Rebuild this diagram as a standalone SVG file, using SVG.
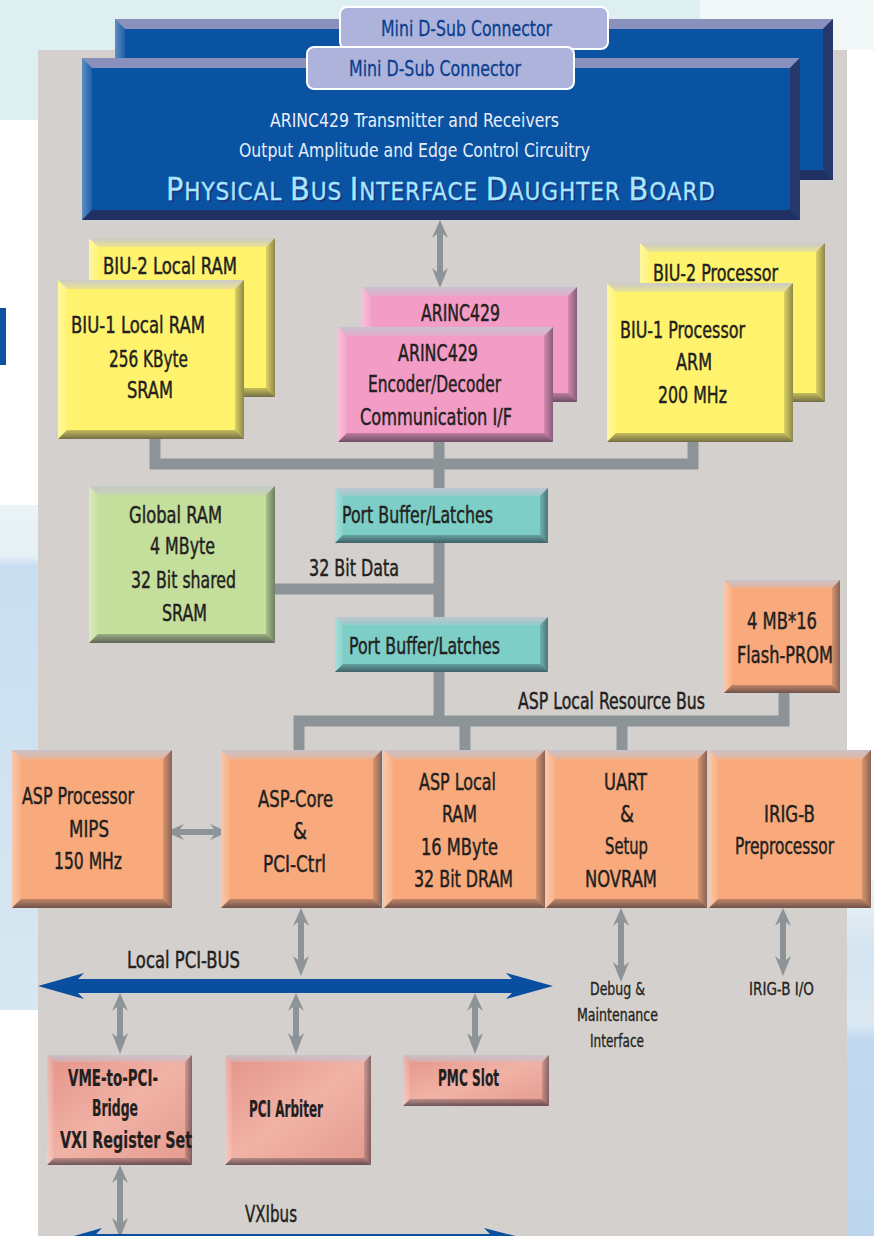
<svg xmlns="http://www.w3.org/2000/svg" width="874" height="1236" viewBox="0 0 874 1236">
<style>
.lbl{font-family:"Liberation Sans Narrow","DejaVu Sans Condensed","Liberation Sans",sans-serif;font-size:23px;fill:#231f20;stroke:#231f20;stroke-width:0.45px}
.sm{font-size:17px;stroke-width:0.3px}
.hv{font-weight:bold;stroke-width:0.2px}
.wt{font-family:"Liberation Sans Narrow","DejaVu Sans Condensed","Liberation Sans",sans-serif;font-size:20px;fill:#e8eef8}
.con{font-family:"Liberation Sans Narrow","DejaVu Sans Condensed","Liberation Sans",sans-serif;font-size:21px;fill:#0b3f8f;stroke:#0b3f8f;stroke-width:0.3px}
.ttl{font-family:"Liberation Sans Narrow","DejaVu Sans Condensed","Liberation Sans",sans-serif;font-size:24px}
.big{font-size:32px}
.bt{fill:url(#gT)}
.bl{fill:url(#gL)}
.br{fill:url(#gR)}
.bb{fill:url(#gB)}
.btb{fill:#8a90bc}
.brb{fill:#26386c}
.bbb{fill:#1f3163}
.bus{fill:none;stroke:#8d9497;stroke-width:11}
.arr{fill:#8d9497}
.pci{fill:#0a4f9f}
.blue{fill:#0a52a2}
.yel{fill:#fff36d}
.pink{fill:#f39dc6}
.teal{fill:#7ccec6}
.grn{fill:#c4de9c}
.org{fill:#f8aa7c}
.rose{fill:url(#gRose)}
.dsub{fill:#aeb3dc;stroke:#ffffff;stroke-width:2}
</style>
<defs>
<linearGradient id="gT" x1="0" y1="0" x2="0" y2="1"><stop offset="0" stop-color="#c4c5d2" stop-opacity=".9"/><stop offset="1" stop-color="#c4c5d2" stop-opacity=".35"/></linearGradient>
<linearGradient id="gL" x1="0" y1="0" x2="1" y2="0"><stop offset="0" stop-color="#ffffff" stop-opacity=".35"/><stop offset="1" stop-color="#ffffff" stop-opacity=".08"/></linearGradient>
<linearGradient id="gR" x1="0" y1="0" x2="1" y2="0"><stop offset="0" stop-color="#1c1c2c" stop-opacity=".15"/><stop offset="1" stop-color="#1c1c2c" stop-opacity=".5"/></linearGradient>
<linearGradient id="gB" x1="0" y1="0" x2="0" y2="1"><stop offset="0" stop-color="#1c1c2c" stop-opacity=".25"/><stop offset="1" stop-color="#1c1c2c" stop-opacity=".62"/></linearGradient>
<linearGradient id="gRose" x1="0" y1="0" x2="1" y2="1"><stop offset="0" stop-color="#e49488"/><stop offset=".5" stop-color="#f1b2a6"/><stop offset="1" stop-color="#e49a8e"/></linearGradient>
<linearGradient id="gLeft" x1="0" y1="0" x2="0" y2="1"><stop offset="0" stop-color="#eaf3f6"/><stop offset=".1" stop-color="#e6f1f6"/><stop offset=".12" stop-color="#c9def0"/><stop offset="1" stop-color="#d8e8f2"/></linearGradient>
<linearGradient id="gRight" x1="0" y1="0" x2="0" y2="1"><stop offset="0" stop-color="#edf3f8"/><stop offset=".2" stop-color="#d4e4f0"/><stop offset=".4" stop-color="#dce9f3"/><stop offset=".45" stop-color="#c2d9ef"/><stop offset="1" stop-color="#bcd6ee"/></linearGradient>
</defs>

<g id="background">
<rect x="0" y="0" width="874" height="1236" fill="#ffffff"/>
<rect x="0" y="0" width="874" height="50" fill="#ddeff0"/>
<rect x="700" y="0" width="174" height="50" fill="#f2f8f8"/>
<rect x="0" y="50" width="38" height="70" fill="#ddeff0"/>
<rect x="0" y="505" width="38" height="505" fill="url(#gLeft)"/>
<rect x="847" y="880" width="27" height="356" fill="url(#gRight)"/>
<rect x="0" y="308" width="6" height="57" fill="#0a52a2"/>
<rect x="38" y="50" width="809" height="1186" fill="#d4d0cd"/>
</g>

<g id="connectors">
<path class="bus" d="M155,439 V464 H693 V442"/>
<path class="bus" d="M439,442 V488 M439,543 V617 M439,672 V721"/>
<path class="bus" d="M275,589 H439"/>
<path class="bus" d="M299,750 V721 H784 V692 M465,721 V750 M622,721 V750"/>
<path class="arr" d="M440,220 L448,238 L443,234 V272 L448,268 L440,288 L432,268 L437,272 V234 L432,238 Z"/>
<path class="arr" d="M166,832 L184,824 L180,829 H214 L210,824 L228,832 L210,840 L214,835 H180 L184,840 Z"/>
<path class="arr" d="M301,908 L309,926 L304,922 V960 L309,956 L301,976 L293,956 L298,960 V922 L293,926 Z"/>
<path class="arr" d="M621,908 L629,926 L624,922 V966 L629,962 L621,982 L613,962 L618,966 V922 L613,926 Z"/>
<path class="arr" d="M783,908 L791,926 L786,922 V960 L791,956 L783,976 L775,956 L780,960 V922 L775,926 Z"/>
<path class="arr" d="M120,993 L128,1011 L123,1007 V1037 L128,1033 L120,1054 L112,1033 L117,1037 V1007 L112,1011 Z"/>
<path class="arr" d="M296,993 L304,1011 L299,1007 V1037 L304,1033 L296,1054 L288,1033 L293,1037 V1007 L288,1011 Z"/>
<path class="arr" d="M475,993 L483,1011 L478,1007 V1037 L483,1033 L475,1054 L467,1033 L472,1037 V1007 L467,1011 Z"/>
<path class="arr" d="M120,1165 L128,1183 L123,1179 V1222 L128,1218 L120,1238 L112,1218 L117,1222 V1179 L112,1183 Z"/>
<path class="pci" d="M38,986 L84,973 L78,979 H512 L506,973 L553,986 L506,999 L512,993 H78 L84,999 Z"/>
<path class="pci" d="M56,1241 L102,1228 L96,1234 H490 L484,1228 L535,1241 Z"/>
<text class="lbl" x="309" y="576" textLength="90" lengthAdjust="spacingAndGlyphs">32 Bit Data</text>
<text class="lbl" x="518" y="709" textLength="187" lengthAdjust="spacingAndGlyphs">ASP Local Resource Bus</text>
<text class="lbl" x="127" y="968" textLength="113" lengthAdjust="spacingAndGlyphs">Local PCI-BUS</text>
<text class="lbl" x="245" y="1222" textLength="52" lengthAdjust="spacingAndGlyphs">VXIbus</text>
<text class="lbl sm" x="590" y="995" textLength="55" lengthAdjust="spacingAndGlyphs">Debug &amp;</text>
<text class="lbl sm" x="577" y="1021" textLength="81" lengthAdjust="spacingAndGlyphs">Maintenance</text>
<text class="lbl sm" x="590" y="1047" textLength="54" lengthAdjust="spacingAndGlyphs">Interface</text>
<text class="lbl sm" x="749" y="995" textLength="65" lengthAdjust="spacingAndGlyphs">IRIG-B I/O</text>
</g>

<g id="daughter-board-2">
<rect class="blue" x="115" y="19" width="718" height="161"/>
<path class="btb" d="M115,19 H833 L823,29 H125 Z"/>
<path class="bl" d="M115,19 L125,29 V170 L115,180 Z"/>
<path class="brb" d="M833,19 V180 L823,170 V29 Z"/>
<path class="bbb" d="M115,180 H833 L823,170 H125 Z"/>
</g>
<g id="mini-dsub-2">
<rect class="dsub" x="340" y="7" width="268" height="42" rx="7"/>
<text class="con" x="381" y="36" textLength="171" lengthAdjust="spacingAndGlyphs">Mini D-Sub Connector</text>
</g>
<g id="daughter-board-1">
<rect class="blue" x="82" y="58" width="718" height="162"/>
<path class="btb" d="M82,58 H800 L790,68 H92 Z"/>
<path class="bl" d="M82,58 L92,68 V210 L82,220 Z"/>
<path class="brb" d="M800,58 V220 L790,210 V68 Z"/>
<path class="bbb" d="M82,220 H800 L790,210 H92 Z"/>
<text class="wt" x="270" y="127" textLength="289" lengthAdjust="spacingAndGlyphs">ARINC429 Transmitter and Receivers</text>
<text class="wt" x="239" y="157" textLength="351" lengthAdjust="spacingAndGlyphs">Output Amplitude and Edge Control Circuitry</text>
<text class="ttl" x="168" y="202" fill="#1b3580" textLength="549" lengthAdjust="spacing"><tspan class="big">P</tspan>HYSICAL <tspan class="big">B</tspan>US <tspan class="big">I</tspan>NTERFACE <tspan class="big">D</tspan>AUGHTER <tspan class="big">B</tspan>OARD</text>
<text class="ttl" x="166" y="200" fill="#a9e6ff" stroke="#a9e6ff" stroke-width="0.3" textLength="549" lengthAdjust="spacing"><tspan class="big">P</tspan>HYSICAL <tspan class="big">B</tspan>US <tspan class="big">I</tspan>NTERFACE <tspan class="big">D</tspan>AUGHTER <tspan class="big">B</tspan>OARD</text>
</g>
<g id="mini-dsub-1">
<rect class="dsub" x="307" y="47" width="267" height="42" rx="7"/>
<text class="con" x="349" y="76" textLength="172" lengthAdjust="spacingAndGlyphs">Mini D-Sub Connector</text>
</g>

<g id="biu2-ram">
<rect class="yel" x="89" y="238" width="186" height="159"/>
<path class="bt" d="M89,238 H275 L266,247 H98 Z"/>
<path class="bl" d="M89,238 L98,247 V388 L89,397 Z"/>
<path class="br" d="M275,238 V397 L266,388 V247 Z"/>
<path class="bb" d="M89,397 H275 L266,388 H98 Z"/>
<text class="lbl" x="103" y="274" textLength="134" lengthAdjust="spacingAndGlyphs">BIU-2 Local RAM</text>
</g>
<g id="biu1-ram">
<rect class="yel" x="58" y="280" width="186" height="159"/>
<path class="bt" d="M58,280 H244 L235,289 H67 Z"/>
<path class="bl" d="M58,280 L67,289 V430 L58,439 Z"/>
<path class="br" d="M244,280 V439 L235,430 V289 Z"/>
<path class="bb" d="M58,439 H244 L235,430 H67 Z"/>
<text class="lbl" x="71" y="333" textLength="134" lengthAdjust="spacingAndGlyphs">BIU-1 Local RAM</text>
<text class="lbl" x="109" y="367" textLength="79" lengthAdjust="spacingAndGlyphs">256 KByte</text>
<text class="lbl" x="127" y="398" textLength="46" lengthAdjust="spacingAndGlyphs">SRAM</text>
</g>
<g id="arinc-2">
<rect class="pink" x="362" y="287" width="215" height="115"/>
<path class="bt" d="M362,287 H577 L568,296 H371 Z"/>
<path class="bl" d="M362,287 L371,296 V393 L362,402 Z"/>
<path class="br" d="M577,287 V402 L568,393 V296 Z"/>
<path class="bb" d="M362,402 H577 L568,393 H371 Z"/>
<text class="lbl" x="421" y="321" textLength="79" lengthAdjust="spacingAndGlyphs">ARINC429</text>
</g>
<g id="arinc-1">
<rect class="pink" x="338" y="327" width="215" height="115"/>
<path class="bt" d="M338,327 H553 L544,336 H347 Z"/>
<path class="bl" d="M338,327 L347,336 V433 L338,442 Z"/>
<path class="br" d="M553,327 V442 L544,433 V336 Z"/>
<path class="bb" d="M338,442 H553 L544,433 H347 Z"/>
<text class="lbl" x="398" y="361" textLength="80" lengthAdjust="spacingAndGlyphs">ARINC429</text>
<text class="lbl" x="368" y="392" textLength="133" lengthAdjust="spacingAndGlyphs">Encoder/Decoder</text>
<text class="lbl" x="360" y="425" textLength="152" lengthAdjust="spacingAndGlyphs">Communication I/F</text>
</g>
<g id="biu2-processor">
<rect class="yel" x="640" y="243" width="185" height="159"/>
<path class="bt" d="M640,243 H825 L816,252 H649 Z"/>
<path class="bl" d="M640,243 L649,252 V393 L640,402 Z"/>
<path class="br" d="M825,243 V402 L816,393 V252 Z"/>
<path class="bb" d="M640,402 H825 L816,393 H649 Z"/>
<text class="lbl" x="653" y="281" textLength="125" lengthAdjust="spacingAndGlyphs">BIU-2 Processor</text>
</g>
<g id="biu1-processor">
<rect class="yel" x="607" y="283" width="186" height="159"/>
<path class="bt" d="M607,283 H793 L784,292 H616 Z"/>
<path class="bl" d="M607,283 L616,292 V433 L607,442 Z"/>
<path class="br" d="M793,283 V442 L784,433 V292 Z"/>
<path class="bb" d="M607,442 H793 L784,433 H616 Z"/>
<text class="lbl" x="620" y="338" textLength="125" lengthAdjust="spacingAndGlyphs">BIU-1 Processor</text>
<text class="lbl" x="676" y="370" textLength="36" lengthAdjust="spacingAndGlyphs">ARM</text>
<text class="lbl" x="658" y="403" textLength="69" lengthAdjust="spacingAndGlyphs">200 MHz</text>
</g>

<g id="global-ram">
<rect class="grn" x="89" y="486" width="186" height="157"/>
<path class="bt" d="M89,486 H275 L266,495 H98 Z"/>
<path class="bl" d="M89,486 L98,495 V634 L89,643 Z"/>
<path class="br" d="M275,486 V643 L266,634 V495 Z"/>
<path class="bb" d="M89,643 H275 L266,634 H98 Z"/>
<text class="lbl" x="129" y="523" textLength="93" lengthAdjust="spacingAndGlyphs">Global RAM</text>
<text class="lbl" x="150" y="554" textLength="65" lengthAdjust="spacingAndGlyphs">4 MByte</text>
<text class="lbl" x="131" y="588" textLength="105" lengthAdjust="spacingAndGlyphs">32 Bit shared</text>
<text class="lbl" x="162" y="621" textLength="45" lengthAdjust="spacingAndGlyphs">SRAM</text>
</g>
<g id="port-buffer-1">
<rect class="teal" x="335" y="488" width="213" height="55"/>
<path class="bt" d="M335,488 H548 L540,496 H343 Z"/>
<path class="bl" d="M335,488 L343,496 V535 L335,543 Z"/>
<path class="br" d="M548,488 V543 L540,535 V496 Z"/>
<path class="bb" d="M335,543 H548 L540,535 H343 Z"/>
<text class="lbl" x="342" y="523" textLength="151" lengthAdjust="spacingAndGlyphs">Port Buffer/Latches</text>
</g>
<g id="port-buffer-2">
<rect class="teal" x="335" y="617" width="213" height="55"/>
<path class="bt" d="M335,617 H548 L540,625 H343 Z"/>
<path class="bl" d="M335,617 L343,625 V664 L335,672 Z"/>
<path class="br" d="M548,617 V672 L540,664 V625 Z"/>
<path class="bb" d="M335,672 H548 L540,664 H343 Z"/>
<text class="lbl" x="349" y="654" textLength="151" lengthAdjust="spacingAndGlyphs">Port Buffer/Latches</text>
</g>
<g id="flash-prom">
<rect class="org" x="724" y="580" width="116" height="113"/>
<path class="bt" d="M724,580 H840 L832,588 H732 Z"/>
<path class="bl" d="M724,580 L732,588 V685 L724,693 Z"/>
<path class="br" d="M840,580 V693 L832,685 V588 Z"/>
<path class="bb" d="M724,693 H840 L832,685 H732 Z"/>
<text class="lbl" x="747" y="629" textLength="70" lengthAdjust="spacingAndGlyphs">4 MB*16</text>
<text class="lbl" x="737" y="663" textLength="96" lengthAdjust="spacingAndGlyphs">Flash-PROM</text>
</g>

<g id="asp-processor">
<rect class="org" x="12" y="750" width="160" height="158"/>
<path class="bt" d="M12,750 H172 L163,759 H21 Z"/>
<path class="bl" d="M12,750 L21,759 V899 L12,908 Z"/>
<path class="br" d="M172,750 V908 L163,899 V759 Z"/>
<path class="bb" d="M12,908 H172 L163,899 H21 Z"/>
<text class="lbl" x="22" y="804" textLength="112" lengthAdjust="spacingAndGlyphs">ASP Processor</text>
<text class="lbl" x="69" y="837" textLength="40" lengthAdjust="spacingAndGlyphs">MIPS</text>
<text class="lbl" x="54" y="869" textLength="68" lengthAdjust="spacingAndGlyphs">150 MHz</text>
</g>
<g id="asp-core">
<rect class="org" x="221" y="750" width="161" height="158"/>
<path class="bt" d="M221,750 H382 L373,759 H230 Z"/>
<path class="bl" d="M221,750 L230,759 V899 L221,908 Z"/>
<path class="br" d="M382,750 V908 L373,899 V759 Z"/>
<path class="bb" d="M221,908 H382 L373,899 H230 Z"/>
<text class="lbl" x="258" y="807" textLength="75" lengthAdjust="spacingAndGlyphs">ASP-Core</text>
<text class="lbl" x="293" y="839" textLength="14" lengthAdjust="spacingAndGlyphs">&amp;</text>
<text class="lbl" x="263" y="872" textLength="63" lengthAdjust="spacingAndGlyphs">PCI-Ctrl</text>
</g>
<g id="asp-local-ram">
<rect class="org" x="384" y="750" width="161" height="158"/>
<path class="bt" d="M384,750 H545 L536,759 H393 Z"/>
<path class="bl" d="M384,750 L393,759 V899 L384,908 Z"/>
<path class="br" d="M545,750 V908 L536,899 V759 Z"/>
<path class="bb" d="M384,908 H545 L536,899 H393 Z"/>
<text class="lbl" x="419" y="790" textLength="77" lengthAdjust="spacingAndGlyphs">ASP Local</text>
<text class="lbl" x="442" y="822" textLength="35" lengthAdjust="spacingAndGlyphs">RAM</text>
<text class="lbl" x="421" y="855" textLength="77" lengthAdjust="spacingAndGlyphs">16 MByte</text>
<text class="lbl" x="414" y="887" textLength="99" lengthAdjust="spacingAndGlyphs">32 Bit DRAM</text>
</g>
<g id="uart">
<rect class="org" x="546" y="750" width="161" height="158"/>
<path class="bt" d="M546,750 H707 L698,759 H555 Z"/>
<path class="bl" d="M546,750 L555,759 V899 L546,908 Z"/>
<path class="br" d="M707,750 V908 L698,899 V759 Z"/>
<path class="bb" d="M546,908 H707 L698,899 H555 Z"/>
<text class="lbl" x="604" y="790" textLength="43" lengthAdjust="spacingAndGlyphs">UART</text>
<text class="lbl" x="620" y="822" textLength="14" lengthAdjust="spacingAndGlyphs">&amp;</text>
<text class="lbl" x="605" y="854" textLength="43" lengthAdjust="spacingAndGlyphs">Setup</text>
<text class="lbl" x="585" y="887" textLength="72" lengthAdjust="spacingAndGlyphs">NOVRAM</text>
</g>
<g id="irig-b">
<rect class="org" x="709" y="750" width="162" height="158"/>
<path class="bt" d="M709,750 H871 L862,759 H718 Z"/>
<path class="bl" d="M709,750 L718,759 V899 L709,908 Z"/>
<path class="br" d="M871,750 V908 L862,899 V759 Z"/>
<path class="bb" d="M709,908 H871 L862,899 H718 Z"/>
<text class="lbl" x="764" y="822" textLength="51" lengthAdjust="spacingAndGlyphs">IRIG-B</text>
<text class="lbl" x="735" y="854" textLength="99" lengthAdjust="spacingAndGlyphs">Preprocessor</text>
</g>

<g id="vme-pci-bridge">
<rect class="rose" x="47" y="1055" width="145" height="110" rx="3"/>
<path class="bt" d="M47,1055 H192 L185,1062 H54 Z"/>
<path class="bl" d="M47,1055 L54,1062 V1158 L47,1165 Z"/>
<path class="br" d="M192,1055 V1165 L185,1158 V1062 Z"/>
<path class="bb" d="M47,1165 H192 L185,1158 H54 Z"/>
<text class="lbl hv" x="68" y="1086" textLength="90" lengthAdjust="spacingAndGlyphs">VME-to-PCI-</text>
<text class="lbl hv" x="92" y="1116" textLength="46" lengthAdjust="spacingAndGlyphs">Bridge</text>
<text class="lbl hv" x="60" y="1148" textLength="132" lengthAdjust="spacingAndGlyphs">VXI Register Set</text>
</g>
<g id="pci-arbiter">
<rect class="rose" x="225" y="1055" width="146" height="110" rx="3"/>
<path class="bt" d="M225,1055 H371 L364,1062 H232 Z"/>
<path class="bl" d="M225,1055 L232,1062 V1158 L225,1165 Z"/>
<path class="br" d="M371,1055 V1165 L364,1158 V1062 Z"/>
<path class="bb" d="M225,1165 H371 L364,1158 H232 Z"/>
<text class="lbl hv" x="249" y="1117" textLength="74" lengthAdjust="spacingAndGlyphs">PCI Arbiter</text>
</g>
<g id="pmc-slot">
<rect class="rose" x="403" y="1055" width="146" height="51" rx="3"/>
<path class="bt" d="M403,1055 H549 L542,1062 H410 Z"/>
<path class="bl" d="M403,1055 L410,1062 V1099 L403,1106 Z"/>
<path class="br" d="M549,1055 V1106 L542,1099 V1062 Z"/>
<path class="bb" d="M403,1106 H549 L542,1099 H410 Z"/>
<text class="lbl hv" x="438" y="1086" textLength="61" lengthAdjust="spacingAndGlyphs">PMC Slot</text>
</g>
</svg>
